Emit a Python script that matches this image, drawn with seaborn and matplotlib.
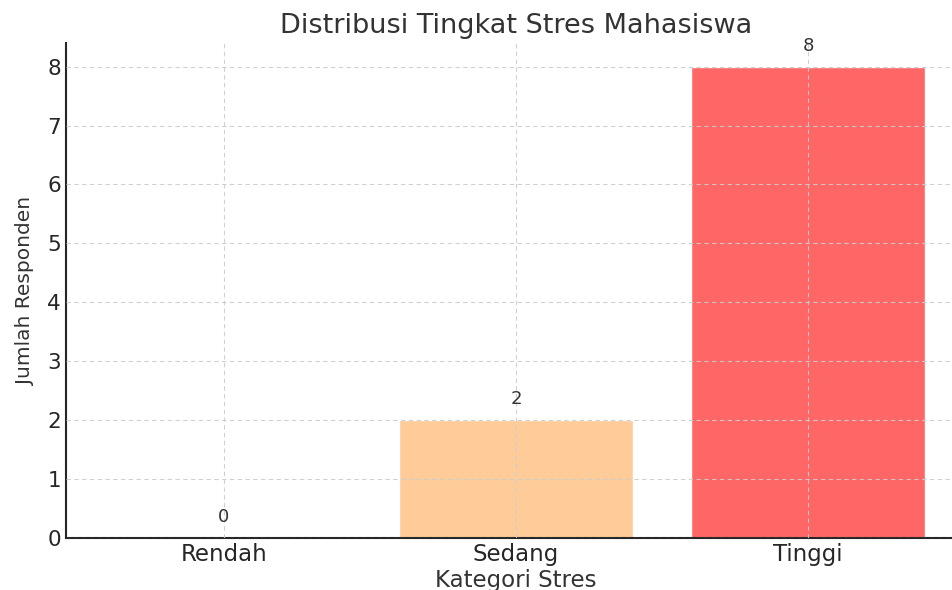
import matplotlib
matplotlib.use("Agg")
import matplotlib.pyplot as plt
import seaborn as sns

categories = ["Rendah", "Sedang", "Tinggi"]
counts = [0, 2, 8]
bar_colors = ["#99ff99", "#ffcc99", "#ff6666"]

sns.set_style("white")
plt.rcParams["font.family"] = ["DejaVu Sans"]

fig = plt.figure(figsize=(9.52, 5.9), dpi=100)
ax = fig.add_axes([0.0693, 0.0881, 0.9454, 0.839])

sns.barplot(x=categories, y=counts, hue=categories, palette=bar_colors,
            legend=False, width=0.8, saturation=1, ax=ax)

# value labels above bars
for i, v in enumerate(counts):
    ax.text(i, v + 0.2, str(v), ha="center", va="bottom", fontsize=13, color="#333333")

ax.set_xlim(-0.54, 2.54)
ax.set_ylim(0, 8.4)
ax.set_yticks(range(0, 9))

ax.set_title("Distribusi Tingkat Stres Mahasiswa", fontsize=19.5, color="#333333", pad=7)
ax.set_xlabel("Kategori Stres", fontsize=16.5, color="#333333", labelpad=2)
ax.set_ylabel("Jumlah Responden", fontsize=14.5, color="#333333", labelpad=9)

ax.grid(True, linestyle=(0, (4, 3)), color="#cccccc", linewidth=0.8, alpha=0.9)
ax.set_axisbelow(False)

ax.tick_params(axis="both", direction="in", length=5, width=1.2, colors="#262626")
ax.tick_params(axis="x", labelsize=16.5)
ax.tick_params(axis="y", labelsize=15.5)
for side in ["top", "right"]:
    ax.spines[side].set_visible(False)
for side in ["left", "bottom"]:
    ax.spines[side].set_color("#262626")
    ax.spines[side].set_linewidth(1.5)

fig.savefig("out.png", dpi=100)
